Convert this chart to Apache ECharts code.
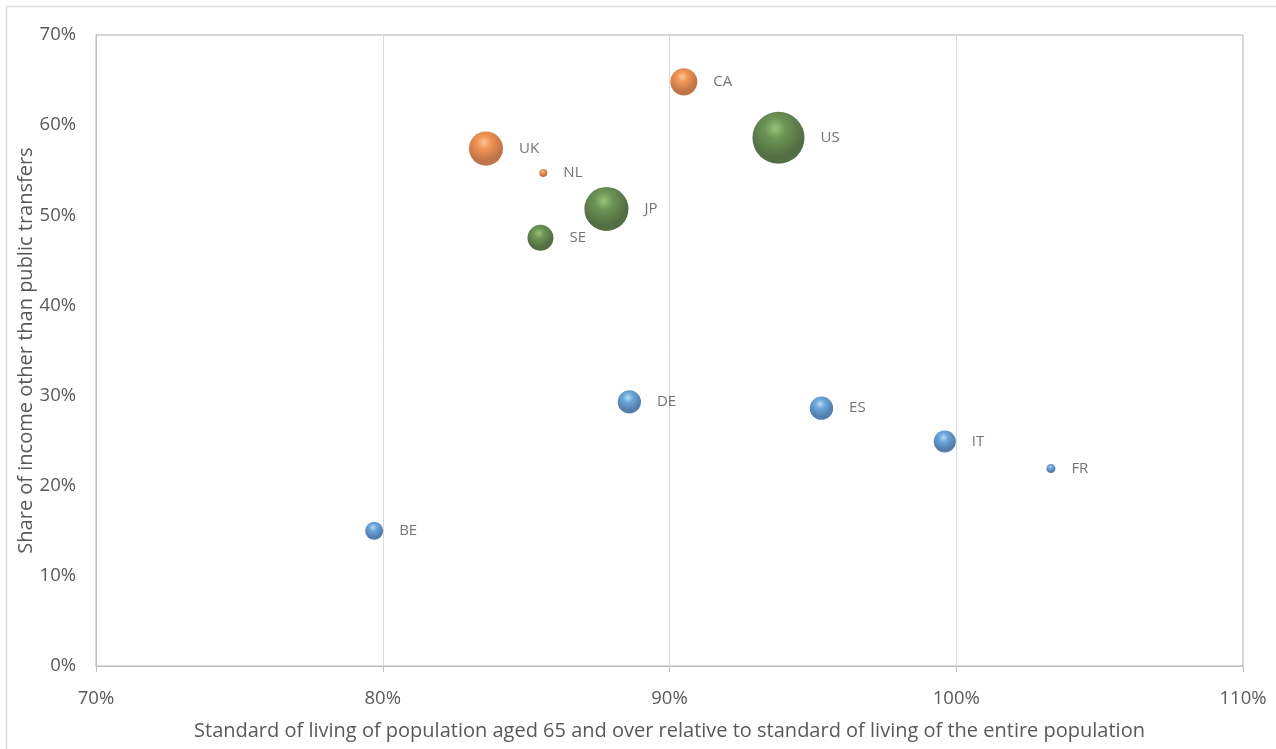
<!DOCTYPE html>
<html>
<head>
<meta charset="utf-8">
<script src="https://cdn.jsdelivr.net/npm/echarts@6/dist/echarts.min.js"></script>
<style>
  html, body { margin: 0; padding: 0; background: #fff; }
  #chart { width: 1276px; height: 749px; }
</style>
</head>
<body>
<div id="chart"></div>
<script>
// ---- data ----
const countries = ['CA', 'UK', 'NL', 'US', 'JP', 'SE', 'DE', 'ES', 'IT', 'FR', 'BE'];
const groups    = ['orange', 'orange', 'orange', 'green', 'green', 'green', 'blue', 'blue', 'blue', 'blue', 'blue'];
const xValues   = [90.5, 83.6, 85.6, 93.8, 87.8, 85.5, 88.6, 95.3, 99.6, 103.3, 79.7]; // standard of living 65+ (%)
const yValues   = [64.8, 57.4, 54.7, 58.6, 50.7, 47.5, 29.3, 28.6, 24.9, 21.9, 15.0]; // share of income (%)
const bubbleValues = [27, 43, 2.4, 100, 72, 25, 20, 20, 18, 3, 12];
const xTicks = { min: 70, max: 110, interval: 10 };
const yTicks = { min: 0, max: 70, interval: 10 };

const FONT = 'Open Sans';
const TXT = '#595959';

function sphere(hi, base, dark) {
  return {
    type: 'radial', x: 0.44, y: 0.32, r: 0.72,
    colorStops: [
      { offset: 0, color: hi },
      { offset: 0.28, color: base },
      { offset: 0.75, color: dark },
      { offset: 0.93, color: dark },
      { offset: 1, color: base }
    ]
  };
}
const palette = {
  orange: sphere('#FBB67A', '#EE7A2A', '#B0521A'),
  green:  sphere('#80B257', '#497A2B', '#284A14'),
  blue:   sphere('#A9D6F6', '#4A92D2', '#275E98')
};

function seriesFor(g) {
  const data = [];
  countries.forEach((c, i) => {
    if (groups[i] === g) data.push({ name: c, value: [xValues[i], yValues[i], bubbleValues[i]] });
  });
  return {
    type: 'scatter',
    data: data,
    symbolSize: v => 5.2 * Math.sqrt(v[2]),
    itemStyle: { color: palette[g] },
    label: {
      show: true, position: 'right', distance: 16,
      formatter: p => p.name,
      color: '#505050', fontFamily: FONT, fontSize: 15
    },
    emphasis: { disabled: true },
    animation: false
  };
}

const chart = echarts.init(document.getElementById('chart'), null, { renderer: 'canvas' });
chart.setOption({
  animation: false,
  backgroundColor: '#fff',
  graphic: [{
    type: 'rect', shape: { x: 6.5, y: 6.5, width: 1290, height: 760 },
    style: { fill: 'none', stroke: '#D9D9D9', lineWidth: 1.5 }, silent: true, z: -1
  }],
  grid: { left: 96, right: 33, top: 35, bottom: 83, show: true, borderColor: '#B0B0B0', borderWidth: 1 },
  xAxis: {
    type: 'value', min: xTicks.min, max: xTicks.max, interval: xTicks.interval,
    name: 'Standard of living of population aged 65 and over relative to standard of living of the entire population',
    nameLocation: 'middle', nameGap: 55, nameMoveOverlap: false,
    nameTextStyle: { color: TXT, fontFamily: FONT, fontSize: 20 },
    axisLine: { show: true, lineStyle: { color: '#BFBFBF', width: 1 } },
    axisTick: { show: true, length: 6, lineStyle: { color: '#BFBFBF' } },
    axisLabel: { formatter: '{value}%', color: TXT, fontFamily: FONT, fontSize: 18.5, margin: 23 },
    splitLine: { show: true, lineStyle: { color: '#D9D9D9', width: 1 } }
  },
  yAxis: {
    type: 'value', min: yTicks.min, max: yTicks.max, interval: yTicks.interval,
    name: 'Share of income other than public transfers',
    nameLocation: 'middle', nameGap: 60, nameMoveOverlap: false,
    nameTextStyle: { color: TXT, fontFamily: FONT, fontSize: 20 },
    axisLine: { show: true, lineStyle: { color: '#BFBFBF', width: 1 } },
    axisTick: { show: false },
    axisLabel: { formatter: '{value}%', color: TXT, fontFamily: FONT, fontSize: 18.5, margin: 20 },
    splitLine: { show: false }
  },
  series: [seriesFor('orange'), seriesFor('green'), seriesFor('blue')]
});
</script>
</body>
</html>
